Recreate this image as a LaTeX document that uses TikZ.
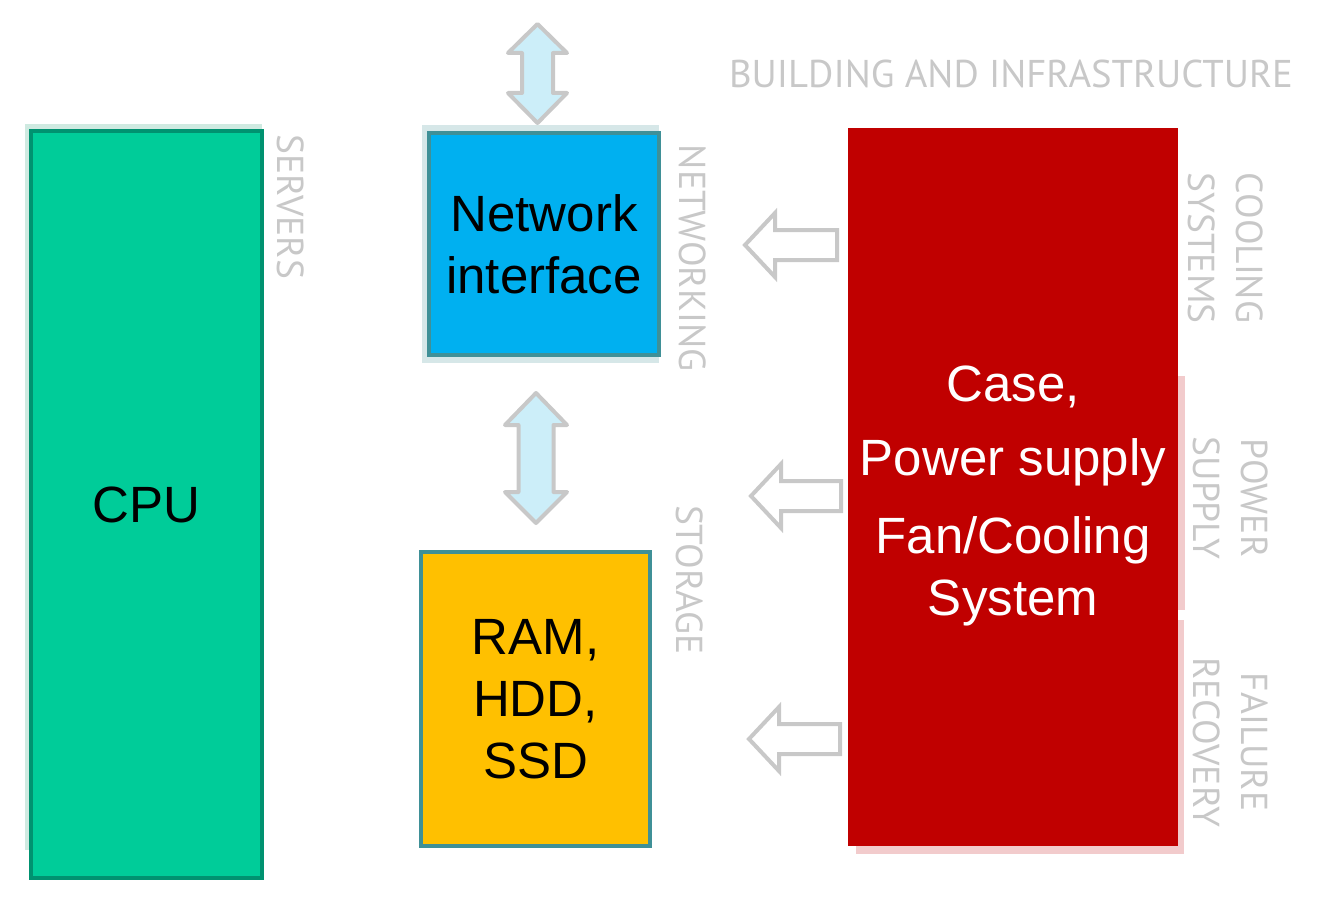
\documentclass[tikz,border=0pt]{standalone}
\usepackage{fontspec}
\setmainfont{Liberation Sans}
\newfontfamily\labelfont{PT Sans}
\usepackage{xcolor}
\usetikzlibrary{positioning}
\definecolor{cpugreen}{HTML}{00CC99}
\definecolor{cpuedge}{HTML}{009270}
\definecolor{netblue}{HTML}{00B0F0}
\definecolor{boxedge}{HTML}{3F9097}
\definecolor{memyellow}{HTML}{FFC000}
\definecolor{casered}{HTML}{C00000}
\definecolor{labelgray}{HTML}{C8C8C8}
\definecolor{arrowfill}{HTML}{CCEEF9}
\definecolor{greenshade}{HTML}{CFEAE1}
\definecolor{blueshade}{HTML}{D6E7E8}
\definecolor{redshade}{HTML}{F2CBCC}
\tikzstyle{unit} = [rectangle, line width=4.5pt, draw=boxedge, align=center, inner sep=0pt, font=\fontsize{51}{62}\selectfont]
\tikzstyle{sidelabel} = [rotate=-90, text=labelgray, align=center, inner sep=0pt, font=\labelfont\fontsize{37.5}{48}\selectfont]
\tikzstyle{bigarrow} = [draw=labelgray, line width=4pt, line join=round, fill=arrowfill]
\tikzstyle{hollowarrow} = [draw=labelgray, line width=4pt, fill=white]

\begin{document}
\begin{tikzpicture}[x=1pt, y=-1pt]
                \useasboundingbox (0,0) rectangle (1340,904);
                % shadows behind the boxes
                \fill[greenshade] (25,124) rectangle (262,850);
                \fill[blueshade] (422,125) rectangle (659,363);
                \fill[redshade] (1176,376) rectangle (1185,610);
                \fill[redshade] (856,620) rectangle (1184,854);
                % boxes
                \node[unit, fill=cpugreen, draw=cpuedge, minimum width=231pt, minimum height=747pt] (cpu) at (146.5,504.5) {CPU};
                \node[unit, fill=netblue, minimum width=230pt, minimum height=222pt] (net) at (544,244) {Network\\interface};
                \node[unit, fill=memyellow, minimum width=229pt, minimum height=294pt] (mem) at (535.5,699) {RAM,\\HDD,\\SSD};
                \node[unit, draw=none, fill=casered, minimum width=330pt, minimum height=718pt] (case) at (1013,487) {};
                \node[unit, draw=none, text=white] (casetext) at (1013,496) {Case,\\[12pt]Power supply\\[16pt]Fan/Cooling\\System};
                % double arrows
                \draw[bigarrow] (537.5,24) -- (567,53) -- (553,53) -- (553,93) -- (567,93) -- (537.5,123)
                    -- (508,93) -- (522,93) -- (522,53) -- (508,53) -- cycle;
                \draw[bigarrow] (536,393) -- (567,425) -- (553.5,425) -- (553.5,492) -- (567,492) -- (536,523)
                    -- (505,492) -- (518.5,492) -- (518.5,425) -- (505,425) -- cycle;
                % arrows out of the case
                \draw[hollowarrow] (745,245) -- (775,213) -- (775,230) -- (837,230) -- (837,260) -- (775,260) -- (775,277) -- cycle;
                \draw[hollowarrow] (751,496) -- (781,464) -- (781,481) -- (841,481) -- (841,511) -- (781,511) -- (781,528) -- cycle;
                \draw[hollowarrow] (749,739) -- (779,707) -- (779,724) -- (840,724) -- (840,754) -- (779,754) -- (779,771) -- cycle;
                % labels
                \node[text=labelgray, inner sep=0pt, font=\labelfont\fontsize{38.7}{48}\selectfont] (building) at (1011,74) {BUILDING AND INFRASTRUCTURE};
                \node[sidelabel] (servers) at (291,207) {SERVERS};
                \node[sidelabel] (networking) at (693,258) {NETWORKING};
                \node[sidelabel] (storage) at (690,580) {STORAGE};
                \node[sidelabel] (cooling) at (1226,248) {COOLING\\SYSTEMS};
                \node[sidelabel] (power) at (1231,498) {POWER\\SUPPLY};
                \node[sidelabel] (failure) at (1231,742) {FAILURE\\RECOVERY};
            \end{tikzpicture}
\end{document}
